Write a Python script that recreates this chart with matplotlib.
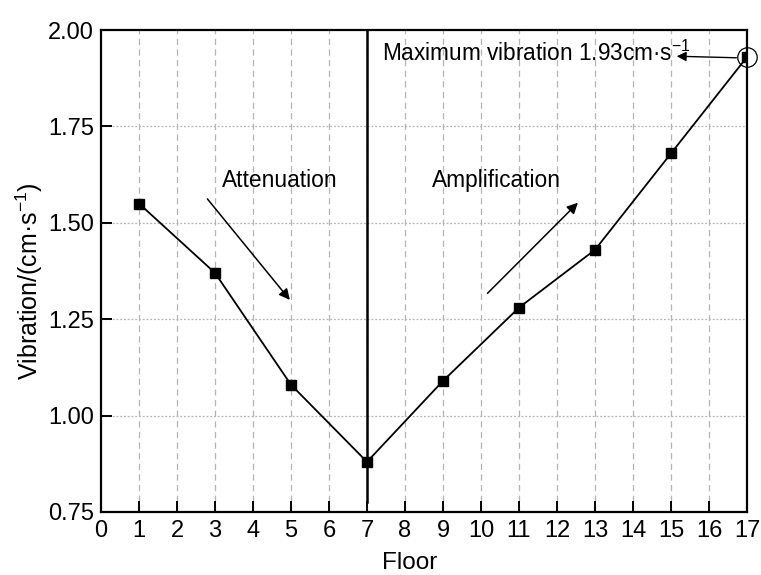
import matplotlib
matplotlib.use("Agg")
import matplotlib.pyplot as plt

plt.rcParams['font.family'] = ['Liberation Sans', 'DejaVu Sans']

floors = [1, 3, 5, 7, 9, 11, 13, 15, 17]
vibration = [1.55, 1.37, 1.08, 0.88, 1.09, 1.28, 1.43, 1.68, 1.93]
x_ticks = list(range(0, 18))
y_ticks = [0.75, 1.00, 1.25, 1.50, 1.75, 2.00]
y_tick_labels = ['0.75', '1.00', '1.25', '1.50', '1.75', '2.00']
divider_floor = 7
max_floor = 17
max_value = 1.93

fig = plt.figure(figsize=(7.61, 5.75), dpi=100)
ax = fig.add_axes([0.1327, 0.1096, 0.8489, 0.8382])

ax.set_xlim(0, 17)
ax.set_ylim(0.75, 2.00)
ax.set_xticks(x_ticks)
ax.set_yticks(y_ticks)
ax.set_yticklabels(y_tick_labels)

# grid
for xv in x_ticks[1:-1]:
    ax.axvline(xv, color='#b4b4b4', lw=0.9, ls=(0, (5, 3.5)), zorder=0)
for yv in y_ticks[1:-1]:
    ax.axhline(yv, color='#b4b4b4', lw=0.9, ls=(0, (1.5, 1.5)), zorder=0)

ax.plot(floors, vibration, color='black', lw=1.3, marker='s', markersize=7,
        markerfacecolor='black', markeredgecolor='black', zorder=3)

# divider line
ax.axvline(divider_floor, ymin=0.02, ymax=1.0, color='black', lw=1.8, zorder=2)

# circled maximum
ax.plot([max_floor], [max_value], marker='o', markersize=14, markerfacecolor='none',
        markeredgecolor='black', markeredgewidth=0.9, clip_on=False, zorder=4)

ax.text(7.39, 1.94, 'Maximum vibration 1.93cm·s$^{\\mathregular{-1}}$', fontsize=16.3,
        va='center', ha='left')
ax.annotate('', xy=(15.15, 1.932), xytext=(16.72, 1.928),
            arrowprops=dict(arrowstyle='-|>', color='black', lw=1.0,
                            mutation_scale=14, shrinkA=0, shrinkB=0))

ax.text(3.18, 1.611, 'Attenuation', fontsize=16.4, va='center', ha='left')
ax.annotate('', xy=(4.97, 1.30), xytext=(2.80, 1.562),
            arrowprops=dict(arrowstyle='-|>', color='black', lw=1.1,
                            mutation_scale=16, shrinkA=0, shrinkB=0))

ax.text(8.71, 1.611, 'Amplification', fontsize=16.4, va='center', ha='left')
ax.annotate('', xy=(12.55, 1.552), xytext=(10.17, 1.317),
            arrowprops=dict(arrowstyle='-|>', color='black', lw=1.1,
                            mutation_scale=16, shrinkA=0, shrinkB=0))

for s in ax.spines.values():
    s.set_linewidth(1.6)

ax.tick_params(axis='both', direction='in', length=8, width=1.4, labelsize=17,
               top=False, right=False)
ax.tick_params(axis='x', pad=6)
ax.tick_params(axis='y', pad=5)

ax.set_xlabel('Floor', fontsize=17.5)
ax.set_ylabel('Vibration/(cm·s$^{\\mathregular{-1}}$)', fontsize=18)
ax.xaxis.set_label_coords(0.478, -0.083)
ax.yaxis.set_label_coords(-0.086, 0.48)

fig.savefig('out.png', dpi=100)
